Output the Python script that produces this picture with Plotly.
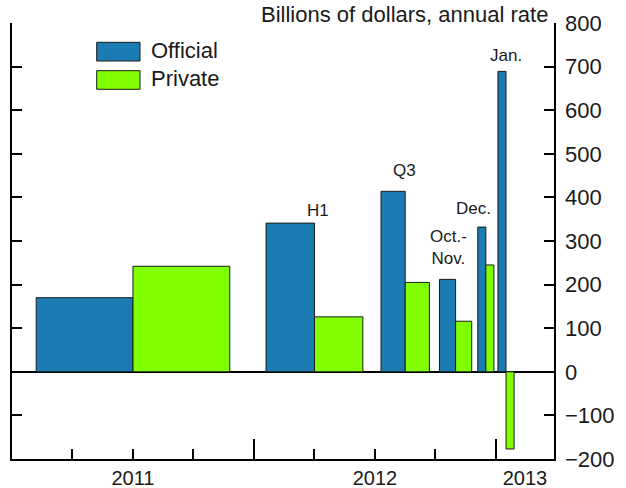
import plotly.graph_objects as go

# ---------------- data ----------------
periods = ["2011", "H1 2012", "Q3 2012", "Oct.-Nov. 2012", "Dec. 2012", "Jan. 2013"]
period_start = ["2011-01", "2012-01", "2012-07", "2012-10", "2012-12", "2013-01"]
period_end = ["2012-01", "2012-07", "2012-10", "2012-12", "2013-01", "2013-02"]
official = [170, 341, 414, 212, 332, 689]
private = [242, 126, 205, 116, 245, -177]
period_labels = ["", "H1", "Q3", "Oct.-<br>Nov.", "Dec.", "Jan."]
year_labels = ["2011", "2012", "2013"]
y_ticks = [-200, -100, 0, 100, 200, 300, 400, 500, 600, 700, 800]

# ---------------- styling ----------------
FONT = "Arial, Liberation Sans, sans-serif"
C_OFF = "#1a7cb3"
C_PRI = "#80ff00"
EDGE = "#1a1a1a"
label_xshift = [0, 4, -1, -7, -12, 0]
label_yshift = [0, 1, 9, 9, 7, 4]


def mon(s):
    y, m = map(int, s.split("-"))
    return (y - 2011) * 12 + (m - 1)


starts = [mon(s) for s in period_start]
ends = [mon(s) for s in period_end]
widths = [e - s for s, e in zip(starts, ends)]
centers = [s + w / 2 for s, w in zip(starts, widths)]
bar_w = [0.4 * w for w in widths]

x_max = 26.88
year_pos = [6, 18, (24 + x_max) / 2]

fig = go.Figure()
fig.add_trace(go.Bar(
    name="Official", x=centers, y=official, width=bar_w,
    offset=[-b for b in bar_w],
    marker=dict(color=C_OFF, line=dict(color=EDGE, width=1)),
    xaxis="x", yaxis="y", showlegend=False,
))
fig.add_trace(go.Bar(
    name="Private", x=centers, y=private, width=bar_w,
    offset=[0 for b in bar_w],
    marker=dict(color=C_PRI, line=dict(color=EDGE, width=1)),
    xaxis="x2", yaxis="y2", showlegend=False,
))

# period labels
for c, o, p, lab, dx, dy in zip(centers, official, private, period_labels,
                                label_xshift, label_yshift):
    if not lab:
        continue
    fig.add_annotation(
        x=c, y=max(o, p), xref="x", yref="y", text=lab, showarrow=False,
        xanchor="center", yanchor="bottom", xshift=dx, yshift=dy,
        font=dict(family=FONT, size=17, color="#1a1a1a"),
    )

# unit note
fig.add_annotation(
    x=0.9926, y=1.052, xref="paper", yref="paper",
    text="Billions of dollars, annual rate", showarrow=False,
    xanchor="right", yanchor="top",
    font=dict(family=FONT, size=22, color="#1a1a1a"),
)

# legend (drawn manually for large swatches)
leg = [("Official", C_OFF, 42.3, 61.0), ("Private", C_PRI, 70.7, 89.3)]
for name, col, top, bot in leg:
    y0 = (459 - bot) / 436
    y1 = (459 - top) / 436
    fig.add_shape(type="rect", xref="paper", yref="paper",
                  x0=(96.7 - 12) / 542, x1=(140 - 12) / 542, y0=y0, y1=y1,
                  fillcolor=col, line=dict(color=EDGE, width=1))
    fig.add_annotation(x=(149 - 12) / 542, y=(y0 + y1) / 2 + 1.5 / 436,
                       xref="paper", yref="paper", text=name, showarrow=False,
                       xanchor="left", yanchor="middle",
                       font=dict(family=FONT, size=22, color="#1a1a1a"))

axis_font = dict(family=FONT, size=22, color="#1a1a1a")

fig.update_layout(
    width=626, height=488,
    margin=dict(l=12, r=72, t=23, b=29, autoexpand=False),
    paper_bgcolor="white", plot_bgcolor="white",
    barmode="overlay",
    showlegend=False,
    xaxis=dict(
        range=[0, x_max], showgrid=False, zeroline=False, automargin=False,
        showline=True, linecolor="black", linewidth=2,
        tickmode="array", tickvals=year_pos, ticktext=year_labels,
        ticks="", tickfont=dict(family=FONT, size=20, color="#1a1a1a"),
        ticklabelstandoff=0,
        minor=dict(tickmode="array", tickvals=[3, 6, 9, 15, 18, 21],
                   ticks="inside", ticklen=10, tickwidth=1.5,
                   tickcolor="black", showgrid=False),
    ),
    xaxis2=dict(
        range=[0, x_max], overlaying="x", anchor="y2", side="bottom",
        showgrid=False, zeroline=False, showline=False, automargin=False,
        tickmode="array", tickvals=[12, 24], ticks="inside", ticklen=20,
        tickwidth=2, tickcolor="black", showticklabels=False,
    ),
    yaxis=dict(
        range=[-200, 800], showgrid=False, automargin=False,
        zeroline=True, zerolinecolor="black", zerolinewidth=2,
        showline=True, linecolor="black", linewidth=2, mirror="ticks",
        tickmode="array", tickvals=[800], ticks="inside", ticklen=20,
        tickwidth=2, tickcolor="black", showticklabels=False,
        minor=dict(tickmode="array", tickvals=[v for v in y_ticks if v != 800],
                   ticks="inside", ticklen=10, tickwidth=1.5,
                   tickcolor="black", showgrid=False),
    ),
    yaxis2=dict(
        range=[-200, 800], overlaying="y", side="right", anchor="x2",
        showgrid=False, zeroline=False, showline=False, automargin=False,
        tickmode="array", tickvals=y_ticks, ticks="",
        tickfont=axis_font, ticklabelstandoff=10,
    ),
)

fig.write_html("out.html",
               config={"displayModeBar": False},
               post_script="document.body.style.margin='0px';"
                           "document.body.style.overflow='hidden';")
